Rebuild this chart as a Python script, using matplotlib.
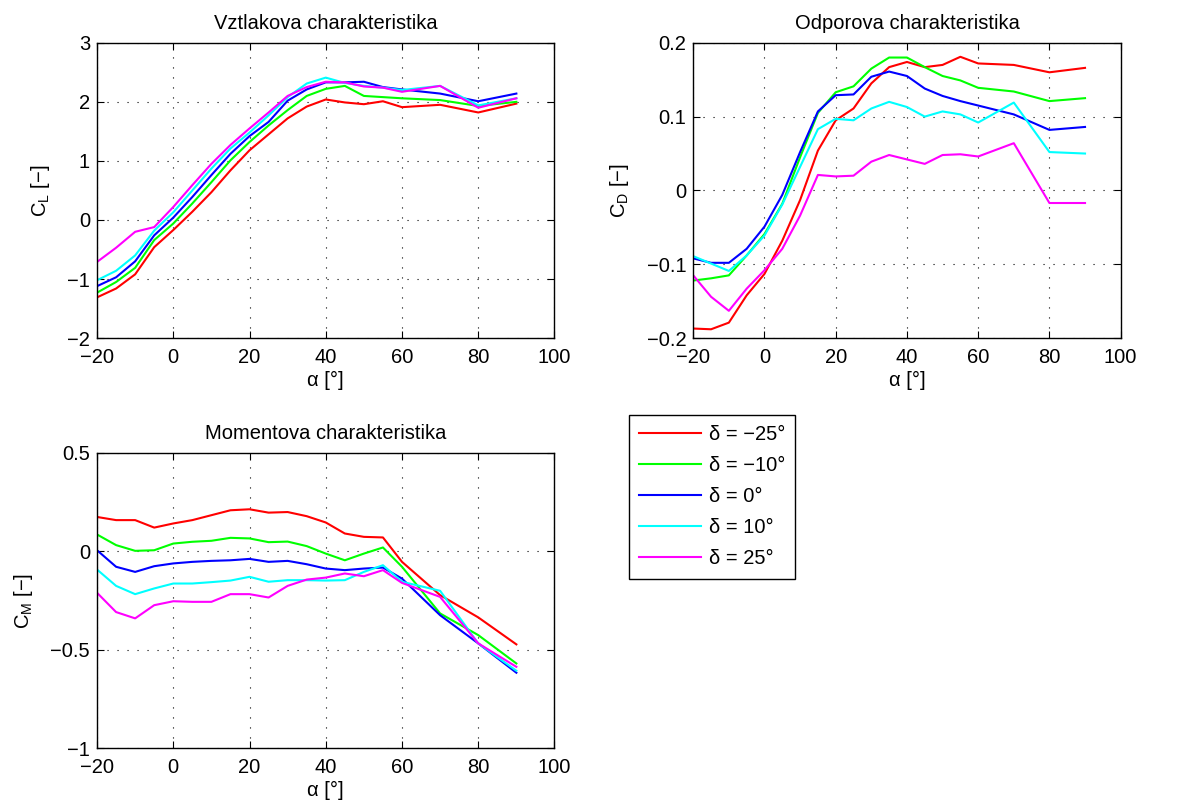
import numpy as np
import matplotlib.pyplot as plt

plt.rcParams['font.family'] = ['Liberation Sans', 'DejaVu Sans']
plt.rcParams['mathtext.fontset'] = 'custom'
plt.rcParams['mathtext.rm'] = 'Liberation Sans'
plt.rcParams['mathtext.it'] = 'Liberation Sans'

alpha = [-20, -15, -10, -5, 0, 5, 10, 15, 20, 25, 30, 35, 40, 45, 50, 55, 60, 70, 80, 90]
labels = ['δ = −25°', 'δ = −10°', 'δ = 0°', 'δ = 10°', 'δ = 25°']
colors = [(1, 0, 0), (0, 1, 0), (0, 0, 1), (0, 1, 1), (1, 0, 1)]

# vztlak
cl_m25 = [-1.31, -1.16, -0.92, -0.46, -0.17, 0.14, 0.47, 0.84, 1.18, 1.45, 1.72, 1.92, 2.04, 1.99, 1.96, 2.01, 1.91, 1.95, 1.82, 1.97]
cl_m10 = [-1.23, -1.05, -0.81, -0.34, -0.06, 0.28, 0.64, 1.01, 1.32, 1.60, 1.86, 2.10, 2.22, 2.27, 2.10, 2.08, 2.06, 2.03, 1.93, 2.00]
cl_0 = [-1.12, -0.97, -0.70, -0.26, 0.04, 0.39, 0.76, 1.12, 1.42, 1.66, 2.02, 2.21, 2.33, 2.33, 2.34, 2.25, 2.21, 2.14, 2.01, 2.14]
cl_10 = [-1.02, -0.86, -0.60, -0.18, 0.13, 0.50, 0.87, 1.21, 1.48, 1.77, 2.08, 2.31, 2.41, 2.32, 2.27, 2.24, 2.20, 2.27, 1.94, 2.06]
cl_25 = [-0.71, -0.47, -0.20, -0.12, 0.22, 0.59, 0.95, 1.27, 1.55, 1.82, 2.10, 2.25, 2.34, 2.33, 2.26, 2.24, 2.17, 2.27, 1.90, 2.06]

# odpor
cd_m25 = [-0.187, -0.188, -0.179, -0.142, -0.113, -0.068, -0.013, 0.054, 0.095, 0.111, 0.145, 0.167, 0.174, 0.167, 0.170, 0.181, 0.172, 0.170, 0.160, 0.166]
cd_m10 = [-0.122, -0.119, -0.115, -0.088, -0.059, -0.018, 0.045, 0.105, 0.133, 0.141, 0.165, 0.180, 0.180, 0.167, 0.155, 0.149, 0.139, 0.134, 0.121, 0.125]
cd_0 = [-0.092, -0.098, -0.098, -0.079, -0.049, -0.006, 0.052, 0.107, 0.129, 0.130, 0.154, 0.161, 0.155, 0.138, 0.128, 0.121, 0.115, 0.103, 0.082, 0.086]
cd_10 = [-0.089, -0.099, -0.109, -0.088, -0.061, -0.019, 0.032, 0.083, 0.097, 0.095, 0.111, 0.120, 0.113, 0.100, 0.107, 0.103, 0.092, 0.119, 0.052, 0.050]
cd_25 = [-0.115, -0.144, -0.163, -0.133, -0.108, -0.079, -0.034, 0.021, 0.019, 0.020, 0.039, 0.048, 0.042, 0.036, 0.048, 0.049, 0.046, 0.064, -0.017, -0.017]

# moment
cm_m25 = [0.175, 0.159, 0.159, 0.121, 0.142, 0.159, 0.184, 0.209, 0.214, 0.197, 0.200, 0.179, 0.147, 0.091, 0.074, 0.071, -0.053, -0.222, -0.335, -0.472]
cm_m10 = [0.086, 0.032, 0.003, 0.006, 0.040, 0.049, 0.054, 0.069, 0.066, 0.047, 0.050, 0.027, -0.011, -0.045, -0.011, 0.020, -0.078, -0.315, -0.425, -0.569]
cm_0 = [0.006, -0.078, -0.104, -0.075, -0.061, -0.053, -0.048, -0.045, -0.038, -0.053, -0.048, -0.065, -0.087, -0.095, -0.087, -0.082, -0.138, -0.324, -0.467, -0.616]
cm_10 = [-0.092, -0.175, -0.217, -0.188, -0.163, -0.163, -0.156, -0.148, -0.129, -0.154, -0.146, -0.146, -0.148, -0.146, -0.104, -0.070, -0.154, -0.200, -0.467, -0.606]
cm_25 = [-0.210, -0.308, -0.340, -0.273, -0.253, -0.256, -0.256, -0.217, -0.217, -0.234, -0.175, -0.143, -0.133, -0.112, -0.126, -0.095, -0.160, -0.231, -0.467, -0.586]

fig = plt.figure(figsize=(11.79, 8.07), dpi=100)
ax1 = fig.add_axes([0.0823, 0.581, 0.388, 0.366])
ax2 = fig.add_axes([0.588, 0.581, 0.3625, 0.366])
ax3 = fig.add_axes([0.0823, 0.0727, 0.388, 0.366])

fs = 14.5


def minus_fmt(v, p):
    return ('%g' % v).replace('-', '−')


def style(ax, title, ylab, ylim, yticks):
    ax.set_xlim(-20, 100)
    ax.set_xticks(np.arange(-20, 101, 20))
    ax.set_ylim(*ylim)
    ax.set_yticks(yticks)
    ax.grid(True, color='k', linestyle=(0, (1, 8)), linewidth=0.8)
    ax.tick_params(direction='in', top=True, right=True, labelsize=fs, length=5)
    ax.tick_params(axis='x', pad=7)
    ax.tick_params(axis='y', pad=5)
    ax.xaxis.set_major_formatter(plt.FuncFormatter(minus_fmt))
    ax.yaxis.set_major_formatter(plt.FuncFormatter(minus_fmt))
    ax.set_title(title, fontsize=fs, pad=10)
    ax.set_ylabel(ylab, fontsize=fs, labelpad=11)
    ax.set_xlabel('α [°]', fontsize=fs, labelpad=3)
    for s in ax.spines.values():
        s.set_linewidth(1.0)


lines = []
for ax, data in [(ax1, [cl_m25, cl_m10, cl_0, cl_10, cl_25]),
                 (ax2, [cd_m25, cd_m10, cd_0, cd_10, cd_25]),
                 (ax3, [cm_m25, cm_m10, cm_0, cm_10, cm_25])]:
    for d, c, lab in zip(data, colors, labels):
        l, = ax.plot(alpha, d, color=c, linewidth=1.5, label=lab)
        if ax is ax1:
            lines.append(l)

style(ax1, 'Vztlakova charakteristika', 'C$_\\mathregular{L}$ [−]', (-2, 3), np.arange(-2, 3.1, 1))
style(ax2, 'Odporova charakteristika', 'C$_\\mathregular{D}$ [−]', (-0.2, 0.2), [-0.2, -0.1, 0, 0.1, 0.2])
style(ax3, 'Momentova charakteristika', 'C$_\\mathregular{M}$ [−]', (-1, 0.5), [-1, -0.5, 0, 0.5])

leg = fig.legend(handles=lines, loc='upper left', bbox_to_anchor=(0.5335, 0.4857),
                 fontsize=fs, fancybox=False, edgecolor='k', framealpha=1,
                 handlelength=3.1, handletextpad=0.35, borderpad=0.5,
                 labelspacing=0.6, borderaxespad=0)
leg.get_frame().set_linewidth(1.0)

plt.savefig('out.png', dpi=100)
